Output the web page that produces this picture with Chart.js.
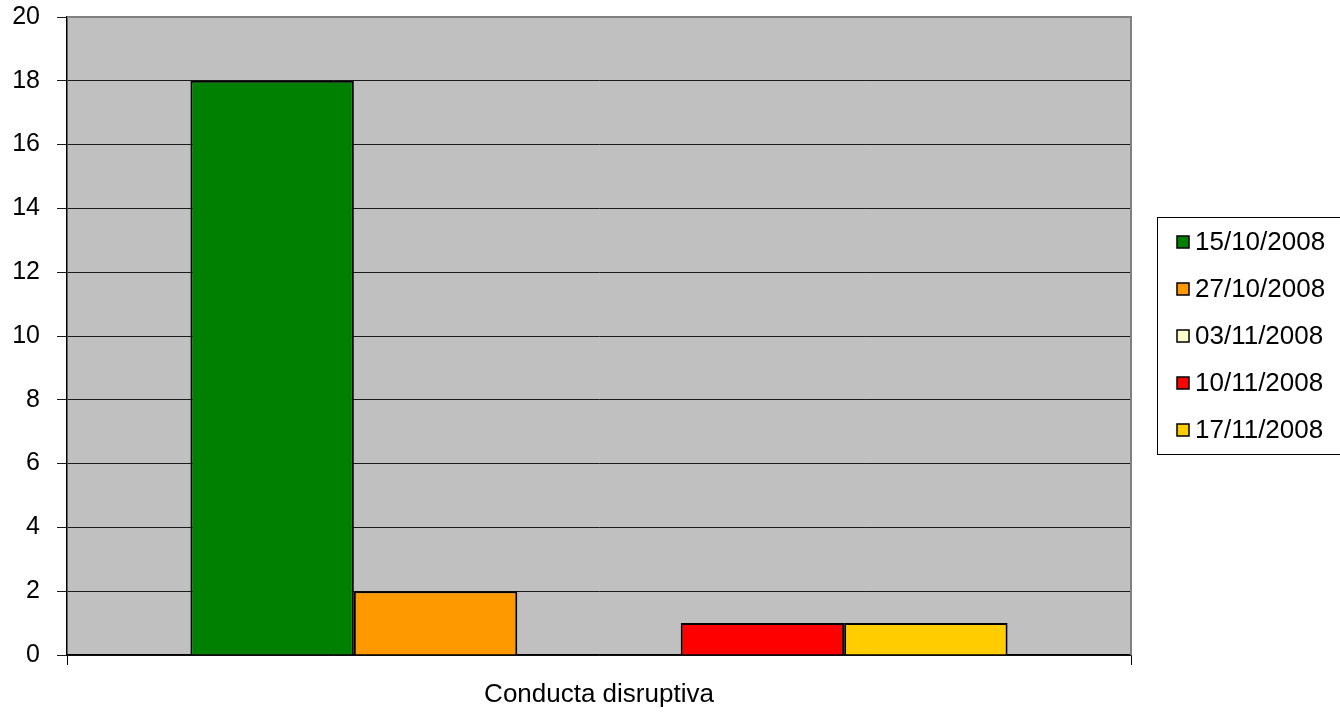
<!DOCTYPE html>
<html>
<head>
<meta charset="utf-8">
<script src="https://cdn.jsdelivr.net/npm/chart.js@4"></script>
<style>
  html, body { margin: 0; padding: 0; background: #ffffff; }
  #wrap { width: 1340px; height: 716px; }
</style>
</head>
<body>
<div id="wrap"><canvas id="c" width="1340" height="716"></canvas></div>
<script>
const categories = ["Conducta disruptiva"];
const seriesLabels = ["15/10/2008", "27/10/2008", "03/11/2008", "10/11/2008", "17/11/2008"];
const seriesValues = [[18], [2], [0], [1], [1]];
const seriesColors = ["#008000", "#FF9900", "#FFFFCC", "#FF0000", "#FFCC00"];
const yTicks = [0, 2, 4, 6, 8, 10, 12, 14, 16, 18, 20];

const FONT = "'Liberation Sans', Arial, sans-serif";

const plotBg = {
  id: 'plotBg',
  beforeDraw(chart) {
    const { ctx, chartArea: a } = chart;
    ctx.save();
    ctx.fillStyle = '#C0C0C0';
    ctx.fillRect(a.left, a.top, a.right - a.left, a.bottom - a.top);
    ctx.restore();
  },
  afterDatasetsDraw(chart) {
    const { ctx, chartArea: a } = chart;
    ctx.save();
    ctx.strokeStyle = '#808080';
    ctx.lineWidth = 2;
    ctx.beginPath();
    ctx.moveTo(a.left, a.top);
    ctx.lineTo(a.right, a.top);
    ctx.lineTo(a.right, a.bottom);
    ctx.stroke();
    ctx.restore();
  }
};

const boxedLegend = {
  id: 'boxedLegend',
  afterDraw(chart) {
    const { ctx } = chart;
    const left = 1157.5, top = 217.5, w = 200, h = 237;
    ctx.save();
    ctx.strokeStyle = '#000000';
    ctx.lineWidth = 1;
    ctx.strokeRect(left, top, w, h);
    ctx.font = '26px ' + FONT;
    ctx.textBaseline = 'middle';
    ctx.textAlign = 'left';
    seriesLabels.forEach((lab, i) => {
      const cy = 242 + i * 47;
      ctx.fillStyle = seriesColors[i];
      ctx.fillRect(1177, cy - 6, 12, 12);
      ctx.strokeStyle = '#000000';
      ctx.lineWidth = 1.5;
      ctx.strokeRect(1177, cy - 6, 12, 12);
      ctx.fillStyle = '#000000';
      ctx.fillText(lab, 1195, cy + 1);
    });
    ctx.restore();
  }
};

new Chart(document.getElementById('c'), {
  type: 'bar',
  data: {
    labels: categories,
    datasets: seriesLabels.map((lab, i) => ({
      label: lab,
      data: seriesValues[i],
      backgroundColor: seriesColors[i],
      borderColor: '#000000',
      borderWidth: 2,
      categoryPercentage: 0.768,
      barPercentage: 1.0
    }))
  },
  options: {
    responsive: false,
    animation: false,
    devicePixelRatio: 1,
    layout: { padding: { left: 12, top: 17, right: 209, bottom: 0 } },
    plugins: {
      legend: { display: false },
      tooltip: { enabled: false }
    },
    scales: {
      x: {
        grid: { display: true, drawOnChartArea: false, offset: true, color: '#000000', tickLength: 10, lineWidth: 1 },
        border: { display: true, color: '#000000', width: 1.5 },
        ticks: { color: '#000000', font: { family: FONT, size: 26 }, padding: 14 },
        afterFit(scale) { scale.height = 61; scale.paddingLeft = 0; scale.paddingRight = 0; }
      },
      y: {
        min: 0,
        max: 20,
        afterBuildTicks(scale) { scale.ticks = yTicks.map(v => ({ value: v })); },
        grid: { color: '#1a1a1a', tickLength: 10, lineWidth: 1 },
        border: { display: true, color: '#000000', width: 1.5 },
        ticks: { color: '#000000', font: { family: FONT, size: 25 }, padding: 17 },
        afterFit(scale) { scale.width = 55; scale.paddingTop = 0; scale.paddingBottom = 0; }
      }
    }
  },
  plugins: [plotBg, boxedLegend]
});
</script>
</body>
</html>
